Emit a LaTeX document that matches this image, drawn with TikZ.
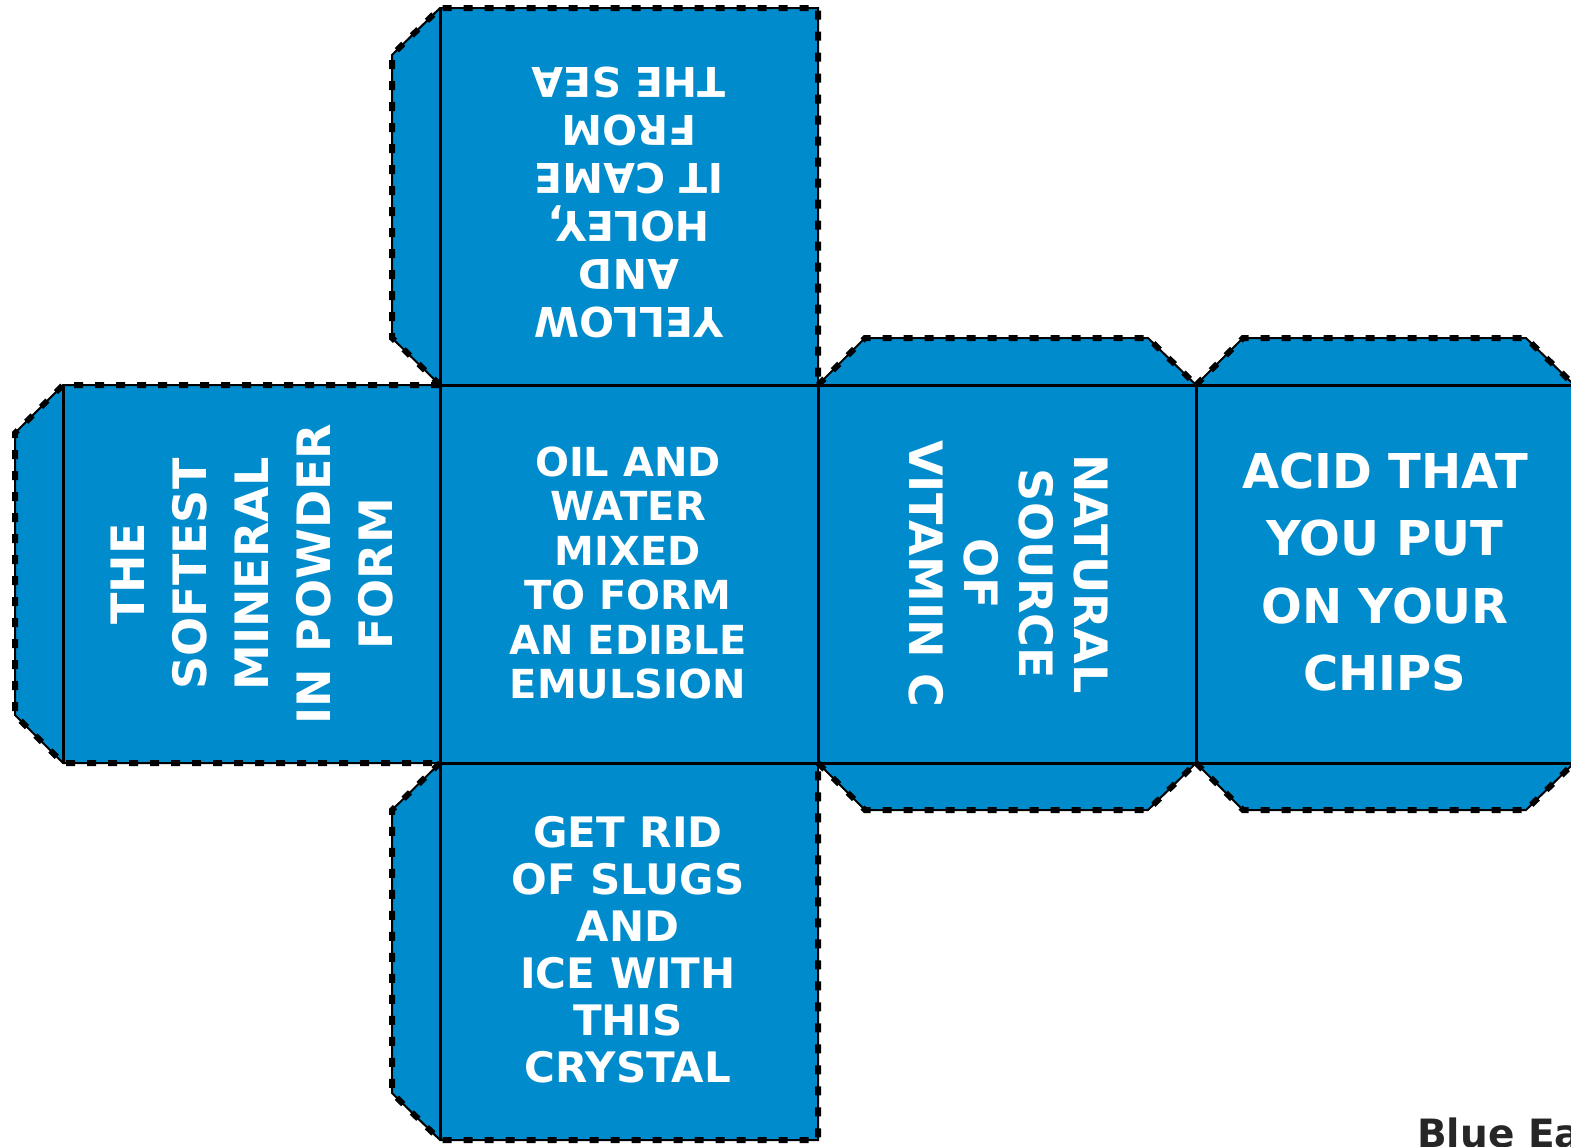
\documentclass[tikz,border=0pt]{standalone}
\usepackage{fontspec}
\setmainfont{DejaVu Sans}
\definecolor{netblue}{RGB}{0,140,204}

\begin{document}
\begin{tikzpicture}[x=1pt,y=-1pt,
  cut/.style={line width=2pt,postaction={draw,line width=6pt,dash pattern=on 9pt off 12pt}},
  fold/.style={line width=3pt},
  facetext/.style={text=white,align=center,inner sep=0pt}]
  \useasboundingbox (0,0) rectangle (1571,1146);
  \fill[netblue] (392,55) -- (440,8) -- (818,8) -- (818,385) -- (440,385) -- (392,338) -- cycle
    (15,433) -- (63,385) -- (440,385) -- (440,763) -- (63,763) -- (15,715) -- cycle
    (440,385) rectangle (818,763)
    (392,810) -- (440,763) -- (818,763) -- (818,1140) -- (440,1140) -- (392,1093) -- cycle;
  \foreach \x in {818,1196}
    \fill[netblue] (\x,385) -- (\x+47,338) -- (\x+330,338) -- (\x+378,385) -- (\x+378,763)
      -- (\x+330,810) -- (\x+47,810) -- (\x,763) -- cycle;
  % cutting lines
  \draw[cut] (440,385) -- (392,338) -- (392,55) -- (440,8) -- (818,8) -- (818,385);
  \draw[cut] (440,385) -- (63,385) -- (15,433) -- (15,715) -- (63,763) -- (440,763);
  \draw[cut] (440,763) -- (392,810) -- (392,1093) -- (440,1140) -- (818,1140) -- (818,763);
  \foreach \x in {818,1196} {
    \draw[cut] (\x,385) -- (\x+47,338) -- (\x+330,338) -- (\x+378,385);
    \draw[cut] (\x,763) -- (\x+47,810) -- (\x+330,810) -- (\x+378,763);
  }
  \draw[cut] (1574,385) -- (1574,763);
  % folding lines
  \draw[fold] (440,8) -- (440,1140);
  \draw[fold] (63,385) -- (63,763);
  \draw[fold] (818,385) -- (818,763);
  \draw[fold] (1196,385) -- (1196,763);
  \draw[fold] (440,385) -- (1574,385);
  \draw[fold] (440,763) -- (1574,763);
  \node[facetext,rotate=180,font=\bfseries\fontsize{41}{48}\selectfont] (facetop) at (629,202)
    {YELLOW\\AND\\HOLEY,\\IT CAME\\FROM\\THE SEA};
  \node[facetext,rotate=90,font=\bfseries\fontsize{46}{62}\selectfont] (faceleft) at (252,574)
    {THE\\SOFTEST\\MINERAL\\IN POWDER\\FORM};
  \node[facetext,font=\bfseries\fontsize{40}{44.5}\selectfont] (facemid) at (628,573)
    {OIL AND\\WATER\\MIXED\\TO FORM\\AN EDIBLE\\EMULSION};
  \node[facetext,rotate=-90,font=\bfseries\fontsize{46}{55}\selectfont] (faceright) at (1008,574)
    {NATURAL\\SOURCE\\OF\\VITAMIN C};
  \node[facetext,font=\bfseries\fontsize{48}{67.5}\selectfont] (faceend) at (1385,572)
    {ACID THAT\\YOU PUT\\ON YOUR\\CHIPS};
  \node[facetext,font=\bfseries\fontsize{42}{47}\selectfont] (facebottom) at (628,950)
    {GET RID\\OF SLUGS\\AND\\ICE WITH\\THIS\\CRYSTAL};
  \node[anchor=base west,inner sep=0pt,text=black!85,font=\bfseries\fontsize{39}{39}\selectfont]
    (brand) at (1417,1147) {Blue Ea};
\end{tikzpicture}
\end{document}
